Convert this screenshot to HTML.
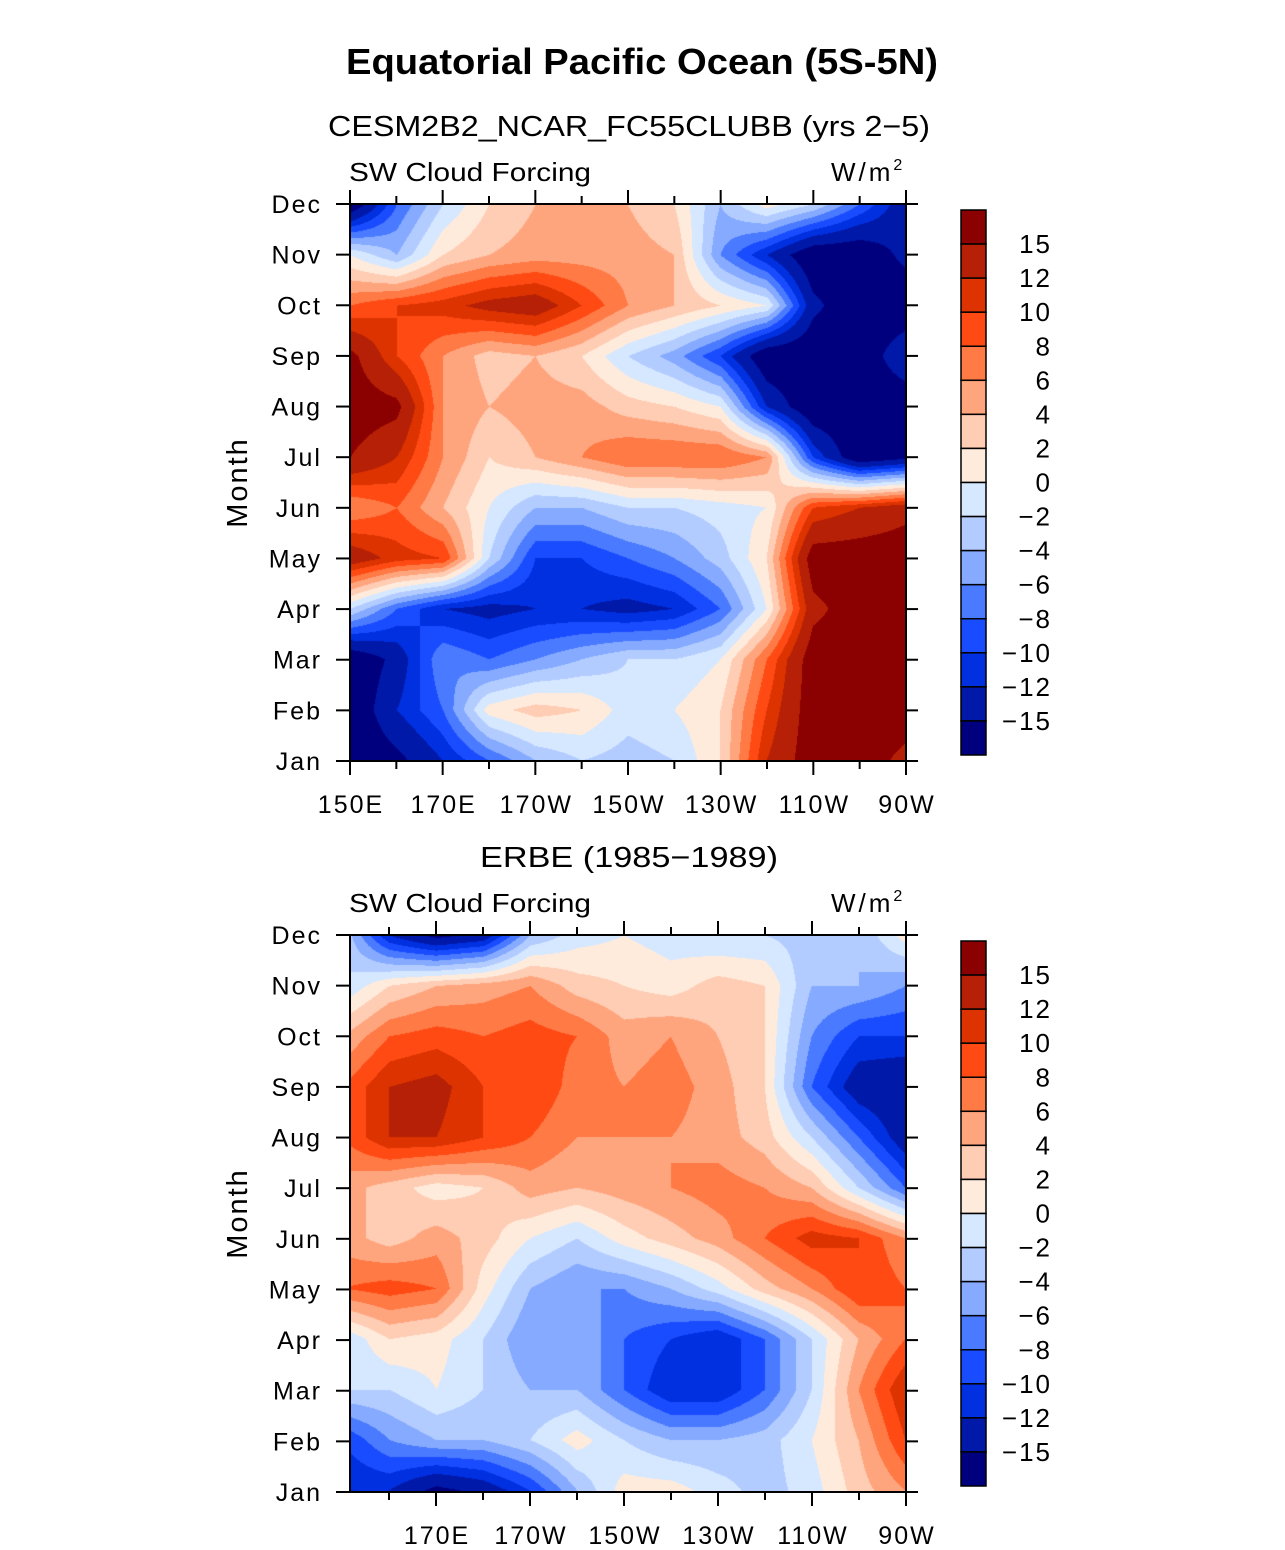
<!DOCTYPE html>
<html><head><meta charset="utf-8">
<style>
body{margin:0;background:#fff;width:1285px;height:1550px;position:relative;overflow:hidden;font-family:"Liberation Sans",sans-serif}
canvas{position:absolute}
svg{position:absolute;left:0;top:0}
</style></head>
<body>
<canvas id="c1" width="556" height="557" style="left:350px;top:204px"></canvas>
<canvas id="c2" width="556" height="556" style="left:350px;top:935px"></canvas>
<svg id="s" width="1285" height="1550"></svg>
<script>
const months=["Jan","Feb","Mar","Apr","May","Jun","Jul","Aug","Sep","Oct","Nov","Dec"];
const lons=[150,160,170,180,190,200,210,220,230,240,250,260,270];
const levels=[-15,-12,-10,-8,-6,-4,-2,0,2,4,6,8,10,12,15];
const levelLabels=["15","12","10","8","6","4","2","0","\u22122","\u22124","\u22126","\u22128","\u221210","\u221212","\u221215"];
const colors=["#00007f","#0019a8","#0030e0","#1a4cff","#4a7aff","#85aaff","#b3ccff","#d6e8ff","#ffebdc","#ffcdb4","#ffa57e","#ff7a45","#ff4a14","#dc3300","#b52006","#8b0000"];
// model values, rows Jan..Dec, columns lons
const model=[
[-18,-16,-12,-8,-4,-2,-3,-2,2,12,17,17,14],
[-18,-12,-8,1,3,2,-1,0,2,10,17,17,17],
[-18,-14,-6,-8,-6,-4,-2,-2,0,8,17,17,17],
[-2,-8,-12,-13,-12,-12,-13,-12,-8,0,14,17,17],
[14,11,10,-2,-10,-10,-8,-6,-3,2,17,17,17],
[6,8,4,0,-4,-4,-2,-2,-1,0,10,12,14],
[15,12,6,2,4,6,8,8,8,6,-10,-18,-16],
[17,16,6,4,5,5,3,2,0,-12,-18,-18,-18],
[16,10,6,3,4,2,-2,-5,-10,-18,-18,-18,-12],
[8,10,11,13,14,10,6,4,2,0,-14,-18,-18],
[0,-4,2,4,5,5,5,4,-6,-12,-18,-18,-14],
[-18,-8,-2,2,4,4,4,2,-4,1,-2,-8,-14]];
const erbe=[
[-12,-12,-16,-14,-10,-4,1,1,-1,-3,-1,3,6],
[-10,-6,-4,-4,-2,1,-2,-4,-4,-3,0,4,10],
[-2,-2,0,-2,-4,-4,-8,-12,-12,-8,-2,6,12],
[-2,2,1,-2,-6,-4,-8,-10,-12,-8,-2,4,8],
[8,9,8,1,-4,-6,-6,-4,-1,3,6,10,8],
[5,3,5,3,0,-2,1,3,5,8,11,10,6],
[5,3,1,2,5,4,5,6,7,6,4,-2,-8],
[8,12,12,10,8,6,6,6,5,3,-2,-8,-14],
[8,12,13,10,10,7,6,7,5,2,-8,-14,-15],
[4,8,9,8,9,8,5,6,4,2,-6,-10,-10],
[-2,2,4,5,6,3,2,1,3,2,-4,-4,-6],
[-2,-12,-16,-14,-4,-1,0,-1,-2,-2,-3,-4,1]];

function colorFor(v){let i=0;while(i<levels.length&&v>=levels[i])i++;return colors[i];}
function hex(c){return [parseInt(c.slice(1,3),16),parseInt(c.slice(3,5),16),parseInt(c.slice(5,7),16)];}
function drawField(id,data,lonMin,lonMax){
  const cv=document.getElementById(id),ctx=cv.getContext('2d'),W=cv.width,H=cv.height;
  const img=ctx.createImageData(W,H);
  for(let py=0;py<H;py++){
    const m=(1-py/(H-1))*11;const r0=Math.min(10,Math.floor(m));const fy=m-r0;
    for(let px=0;px<W;px++){
      const lon=lonMin+(px/(W-1))*(lonMax-lonMin);
      const cx=(lon-lons[0])/10;const c0=Math.min(11,Math.max(0,Math.floor(cx)));const fx=cx-c0;
      const v=(data[r0][c0]*(1-fx)+data[r0][c0+1]*fx)*(1-fy)+(data[r0+1][c0]*(1-fx)+data[r0+1][c0+1]*fx)*fy;
      const rgb=hex(colorFor(v));const k=(py*W+px)*4;
      img.data[k]=rgb[0];img.data[k+1]=rgb[1];img.data[k+2]=rgb[2];img.data[k+3]=255;
    }
  }
  ctx.putImageData(img,0,0);
}
drawField('c1',model,150,270);
drawField('c2',erbe,151.7,270);

const S=document.getElementById('s');const NS="http://www.w3.org/2000/svg";
function el(t,a,txt){const e=document.createElementNS(NS,t);for(const k in a)e.setAttribute(k,a[k]);if(txt!==undefined)e.textContent=txt;S.appendChild(e);return e;}
function lonLabel(l){if(l<180)return l+"E";if(l==180)return "180";return (360-l)+"W";}

const t=el('text',{x:346,y:74,'font-size':36,'font-weight':'bold',textLength:592,lengthAdjust:'spacingAndGlyphs'},"Equatorial Pacific Ocean (5S-5N)");


function panel(top,sub,subX,subW,lonMin,labelLons,prefix){
  const L=350,R=906,T=top,B=top+557;
  const x=l=>L+(l-lonMin)/(270-lonMin)*(R-L);
  const y=i=>B-i*(B-T)/11;
  let e=el('text',{x:subX,y:T-68,'font-size':29,textLength:subW,lengthAdjust:'spacingAndGlyphs'},sub);
  
  e=el('text',{x:349,y:T-23,'font-size':26,textLength:242,lengthAdjust:'spacingAndGlyphs'},"SW Cloud Forcing");
  
  e=el('text',{x:831,y:T-23,'font-size':26,'letter-spacing':3});e.innerHTML='W/m<tspan font-size="16" dy="-11">2</tspan>';
  
  e=el('rect',{x:L,y:T,width:R-L,height:B-T,fill:'none',stroke:'#000','stroke-width':2});
  
  months.forEach((m,i)=>{
    el('line',{x1:L-14,x2:L,y1:y(i),y2:y(i),stroke:'#000','stroke-width':2});
    el('line',{x1:R,x2:R+12,y1:y(i),y2:y(i),stroke:'#000','stroke-width':2});
    const tx=el('text',{x:322,y:y(i)+9,'font-size':25,'letter-spacing':2,'text-anchor':'end'},m);
    
  });
  for(let l=150;l<=270;l+=10){if(l<lonMin)continue;const maj=(l-150)%20==0;
    el('line',{x1:x(l),x2:x(l),y1:B,y2:B+(maj?14:8),stroke:'#000','stroke-width':2});
    el('line',{x1:x(l),x2:x(l),y1:T,y2:T-(maj?14:8),stroke:'#000','stroke-width':2});}
  labelLons.forEach(l=>{const tx=el('text',{x:x(l)+1,y:B+52,'font-size':25,'letter-spacing':2,'text-anchor':'middle'},lonLabel(l));
    });
  e=el('text',{x:0,y:0,'font-size':29,'letter-spacing':2,'text-anchor':'middle',transform:`translate(247,${(T+B)/2}) rotate(-90)`},"Month");
  
  const cT=T+6,cH=545/16;
  colors.slice().reverse().forEach((c,i)=>{
    const r=el('rect',{x:961,y:cT+i*cH,width:25,height:cH,fill:c,stroke:'#000','stroke-width':1.5});
    
  });
  levelLabels.forEach((s,i)=>{
    const tx=el('text',{x:1052,y:cT+(i+1)*cH+9,'font-size':26,'letter-spacing':2,'text-anchor':'end'},s);
    
  });
}
panel(204,"CESM2B2_NCAR_FC55CLUBB (yrs 2\u22125)",328,602,150,[150,170,190,210,230,250,270],'model');
panel(935,"ERBE (1985\u22121989)",480,298,151.7,[170,190,210,230,250,270],'erbe');
</script>
</body></html>
